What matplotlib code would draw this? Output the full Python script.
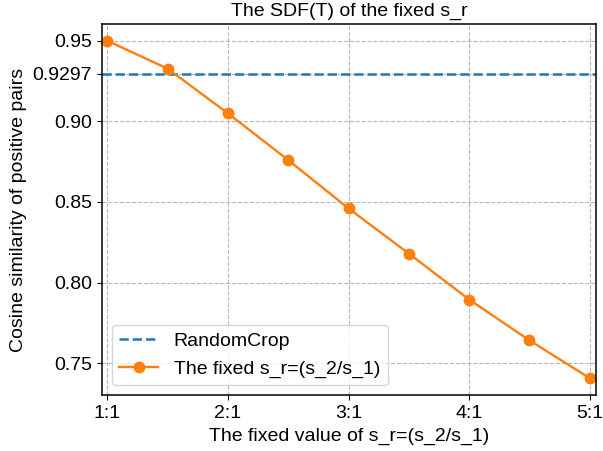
import matplotlib
matplotlib.use("Agg")
import matplotlib.pyplot as plt

x_vals = [1, 1.5, 2, 2.5, 3, 3.5, 4, 4.5, 5]
sim_vals = [0.950, 0.9327, 0.905, 0.876, 0.846, 0.818, 0.7895, 0.7642, 0.7407]
baseline = 0.9297
xtick_pos = [1, 2, 3, 4, 5]
xtick_labels = ["1:1", "2:1", "3:1", "4:1", "5:1"]
ytick_pos = [0.75, 0.80, 0.85, 0.90, 0.9297, 0.95]
ytick_labels = ["0.75", "0.80", "0.85", "0.90", "0.9297", "0.95"]

plt.rcParams['font.family'] = ['Liberation Sans', 'DejaVu Sans']
plt.rcParams['font.size'] = 14
fig, ax = plt.subplots(figsize=(6.03, 4.51), dpi=100)
ax.axhline(baseline, color='#1f77b4', linestyle='--', linewidth=1.8, label='RandomCrop')
ax.plot(x_vals, sim_vals, color='#ff7f0e', marker='o', markersize=7.5, linewidth=1.7,
        label='The fixed s_r=(s_2/s_1)')
ax.set_xlim(0.955, 5.05)
ax.set_xticks(xtick_pos)
ax.set_xticklabels(xtick_labels)
ax.set_yticks(ytick_pos)
ax.set_yticklabels(ytick_labels)
ax.tick_params(labelsize=14)
ax.grid(True, linestyle='--', color='#b0b0b0', alpha=0.9)
for s in ax.spines.values():
    s.set_linewidth(1.1)
ax.set_title('The SDF(T) of the fixed s_r', fontsize=14)
ax.set_xlabel('The fixed value of s_r=(s_2/s_1)', fontsize=14)
ax.set_ylabel('Cosine similarity of positive pairs', fontsize=14)
ax.legend(loc='lower left', fontsize=14)
fig.subplots_adjust(left=0.169, right=0.988, top=0.947, bottom=0.124)
fig.savefig('out.png', dpi=100)
